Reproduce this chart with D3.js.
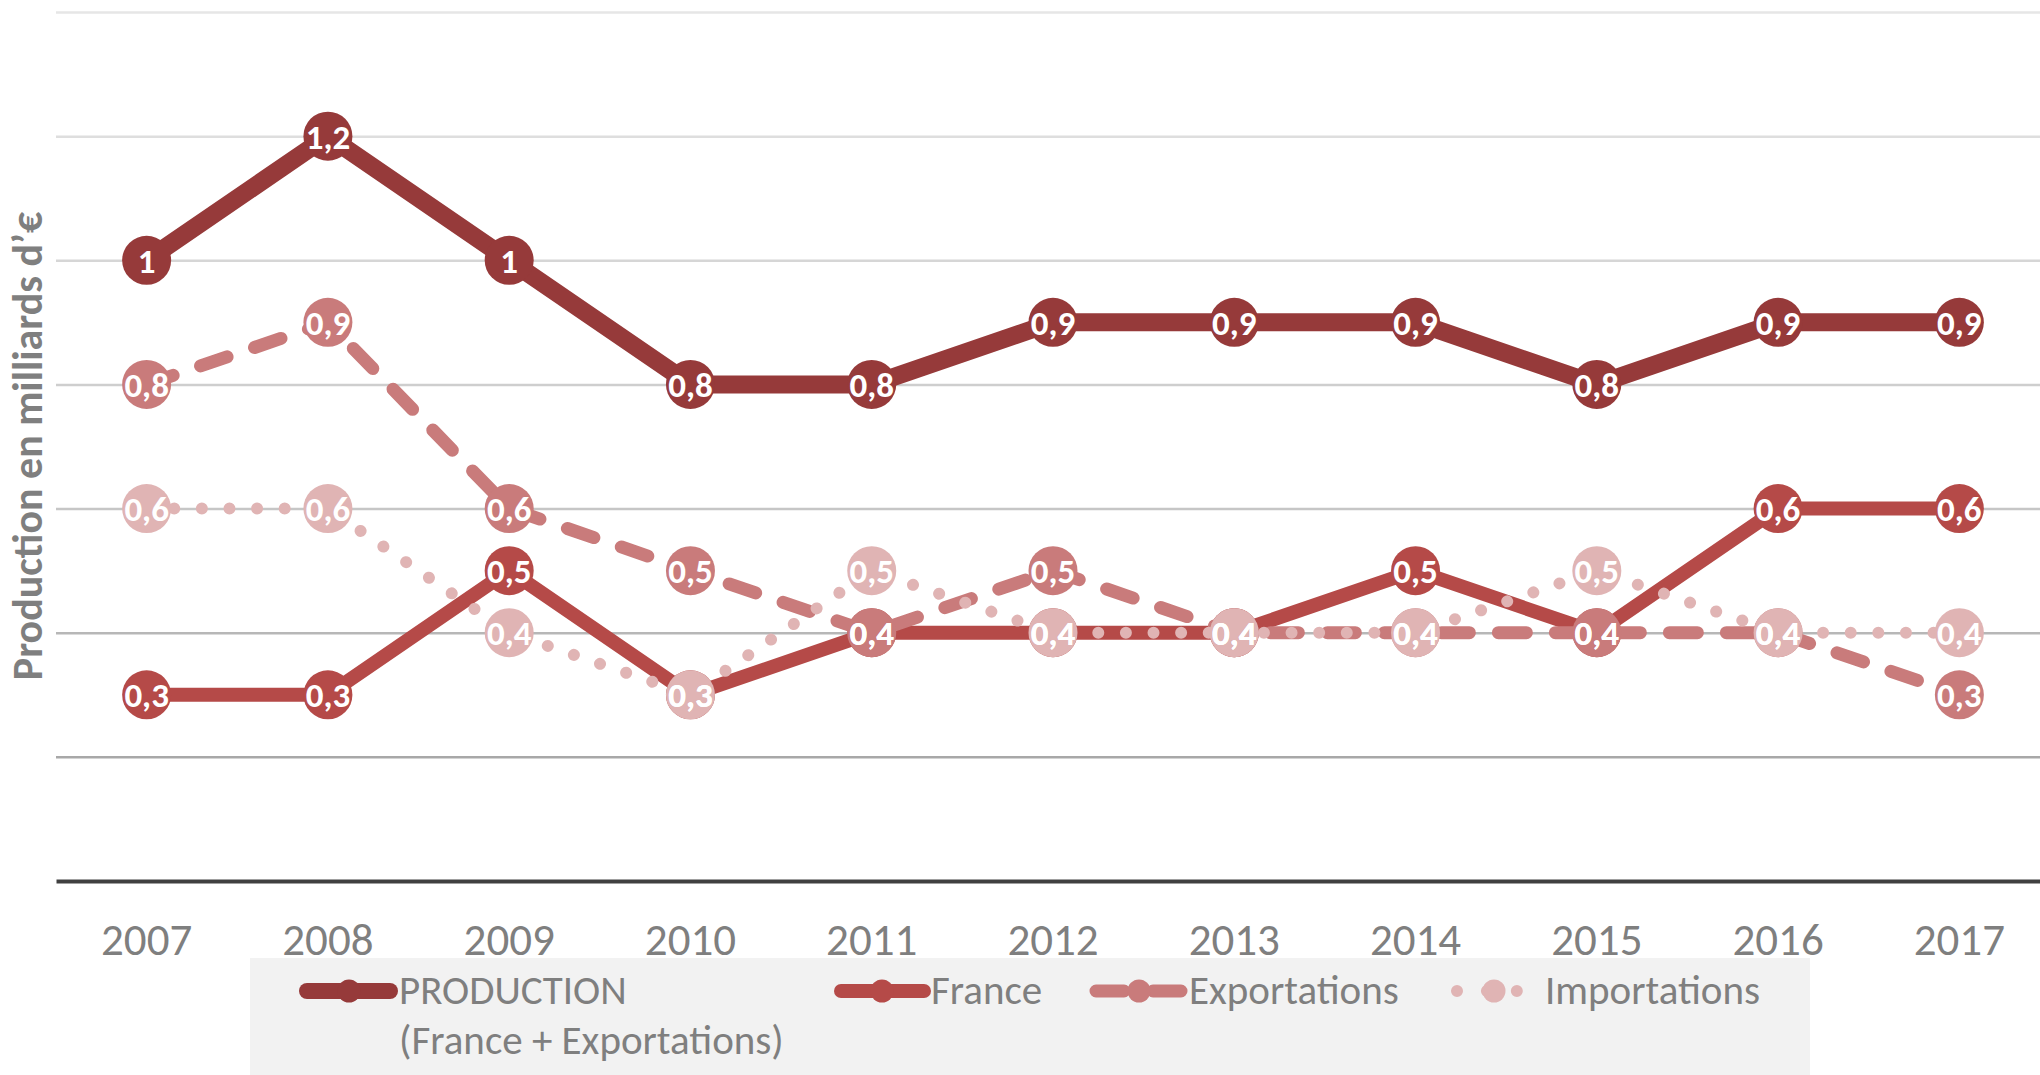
<!DOCTYPE html>
<html>
<head>
<meta charset="utf-8">
<script src="https://cdn.jsdelivr.net/npm/d3@7"></script>
<style>
    html, body { margin: 0; padding: 0; background: #ffffff; }
    svg { display: block; }
    text { font-family: Carlito, Calibri, "Liberation Sans Narrow", Lato, sans-serif; }
</style>
</head>
<body>
<svg id="chart" width="2040" height="1075"></svg>
<script>
// Chart values
const years = ["2007", "2008", "2009", "2010", "2011", "2012", "2013", "2014", "2015", "2016", "2017"];
const production = [1, 1.2, 1, 0.8, 0.8, 0.9, 0.9, 0.9, 0.8, 0.9, 0.9];
const france = [0.3, 0.3, 0.5, 0.3, 0.4, 0.4, 0.4, 0.5, 0.4, 0.6, 0.6];
const exportations = [0.8, 0.9, 0.6, 0.5, 0.4, 0.5, 0.4, 0.4, 0.4, 0.4, 0.3];
const importations = [0.6, 0.6, 0.4, 0.3, 0.5, 0.4, 0.4, 0.4, 0.5, 0.4, 0.4];
const gridTicks = [0.2, 0.4, 0.6, 0.8, 1, 1.2, 1.4];
const seriesNames = ["PRODUCTION", "France", "Exportations", "Importations"];
const yTitle = "Production en milliards d\u2019\u20ac";

// Look of each series
const styles = [
    { color: "#963a3a", width: 18, dash: null },
    { color: "#b54a48", width: 14, dash: null },
    { color: "#c97b7b", width: 13, dash: "28,29" },
    { color: "#e0b4b4", width: 12, dash: "0.01,27.6" }
];

const svg = d3.select("#chart");

// Scales (plot runs a little past the right edge, like the original)
const x = d3.scaleBand().domain(years).range([56, 2050]);
const y = d3.scaleLinear().domain([0, 1.4]).range([881, 12]);
const cx = (d) => x(d) + x.bandwidth() / 2;

// Gridlines, darker toward the bottom
const gridColor = d3.scaleLinear()
    .domain([0.2, 0.6, 1.4])
    .range(["#a8a8a8", "#c6c6c6", "#e6e6e6"]);

svg.append("g")
    .attr("class", "grid")
    .attr("transform", "translate(56,0)")
    .call(d3.axisLeft(y).tickValues(gridTicks).tickSize(-1994).tickFormat(""))
    .call((g) => g.select(".domain").remove())
    .selectAll(".tick line")
    .attr("stroke", (d) => gridColor(d))
    .attr("stroke-width", 2.5);

// Legend box sits under the year labels
const legend = svg.append("g").attr("class", "legend");
legend.append("rect")
    .attr("x", 250)
    .attr("y", 958)
    .attr("width", 1560)
    .attr("height", 117)
    .attr("fill", "#f2f2f2");

// Base axis with the year labels
const xAxis = svg.append("g")
    .attr("transform", `translate(0,${y(0)})`)
    .call(d3.axisBottom(x).tickSize(0).tickPadding(42));
xAxis.select(".domain")
    .attr("stroke", "#404040")
    .attr("stroke-width", 4);
xAxis.selectAll(".tick text")
    .attr("fill", "#7f7f7f")
    .style("font-size", "45px");

// Y axis title
svg.append("text")
    .attr("transform", "translate(42,446) rotate(-90)")
    .attr("text-anchor", "middle")
    .attr("fill", "#7f7f7f")
    .style("font-size", "42px")
    .style("font-weight", "bold")
    .text(yTitle);

// Lines and markers, one series after another
const allSeries = [production, france, exportations, importations];
const line = d3.line()
    .x((d, i) => cx(years[i]))
    .y((d) => y(d));

allSeries.forEach((values, s) => {
    const st = styles[s];
    const g = svg.append("g").attr("class", "series");

    g.append("path")
        .datum(values)
        .attr("d", line)
        .attr("fill", "none")
        .attr("stroke", st.color)
        .attr("stroke-width", st.width)
        .attr("stroke-linejoin", "round")
        .attr("stroke-linecap", st.dash ? "round" : "butt")
        .attr("stroke-dasharray", st.dash);

    g.selectAll("circle")
        .data(values)
        .enter()
        .append("circle")
        .attr("cx", (d, i) => cx(years[i]))
        .attr("cy", (d) => y(d))
        .attr("r", 24.5)
        .attr("fill", st.color);
});

// Data labels on top of everything
const fmt = (v) => String(v).replace(".", ",");
allSeries.forEach((values) => {
    svg.append("g")
        .selectAll("text")
        .data(values)
        .enter()
        .append("text")
        .attr("x", (d, i) => cx(years[i]))
        .attr("y", (d) => y(d))
        .attr("dy", "0.36em")
        .attr("text-anchor", "middle")
        .attr("fill", "#ffffff")
        .style("font-size", "35px")
        .style("font-weight", "bold")
        .text(fmt);
});

// Legend entries
const legendItems = [
    { x0: 307, x1: 390, mx: 349, tx: 399 },
    { x0: 841, x1: 924, mx: 882, tx: 931 },
    { x0: 1096, x1: 1184, mx: 1139, tx: 1189 },
    { x0: 1457, x1: 1518, mx: 1494, tx: 1545 }
];

legendItems.forEach((it, s) => {
    const st = styles[s];
    const ly = 991;
    legend.append("line")
        .attr("x1", it.x0)
        .attr("x2", it.x1)
        .attr("y1", ly)
        .attr("y2", ly)
        .attr("stroke", st.color)
        .attr("stroke-width", s === 0 ? 16 : st.width)
        .attr("stroke-linecap", "round")
        .attr("stroke-dasharray", s === 3 ? "0.01,29.9" : st.dash);
    legend.append("circle")
        .attr("cx", it.mx)
        .attr("cy", ly)
        .attr("r", 11.5)
        .attr("fill", st.color);
    legend.append("text")
        .attr("x", it.tx)
        .attr("y", 1004)
        .attr("fill", "#7f7f7f")
        .style("font-size", "41px")
        .text(seriesNames[s]);
});

legend.append("text")
    .attr("x", 399)
    .attr("y", 1054)
    .attr("fill", "#7f7f7f")
    .style("font-size", "41px")
    .text("(France + Exportations)");
</script>
</body>
</html>
